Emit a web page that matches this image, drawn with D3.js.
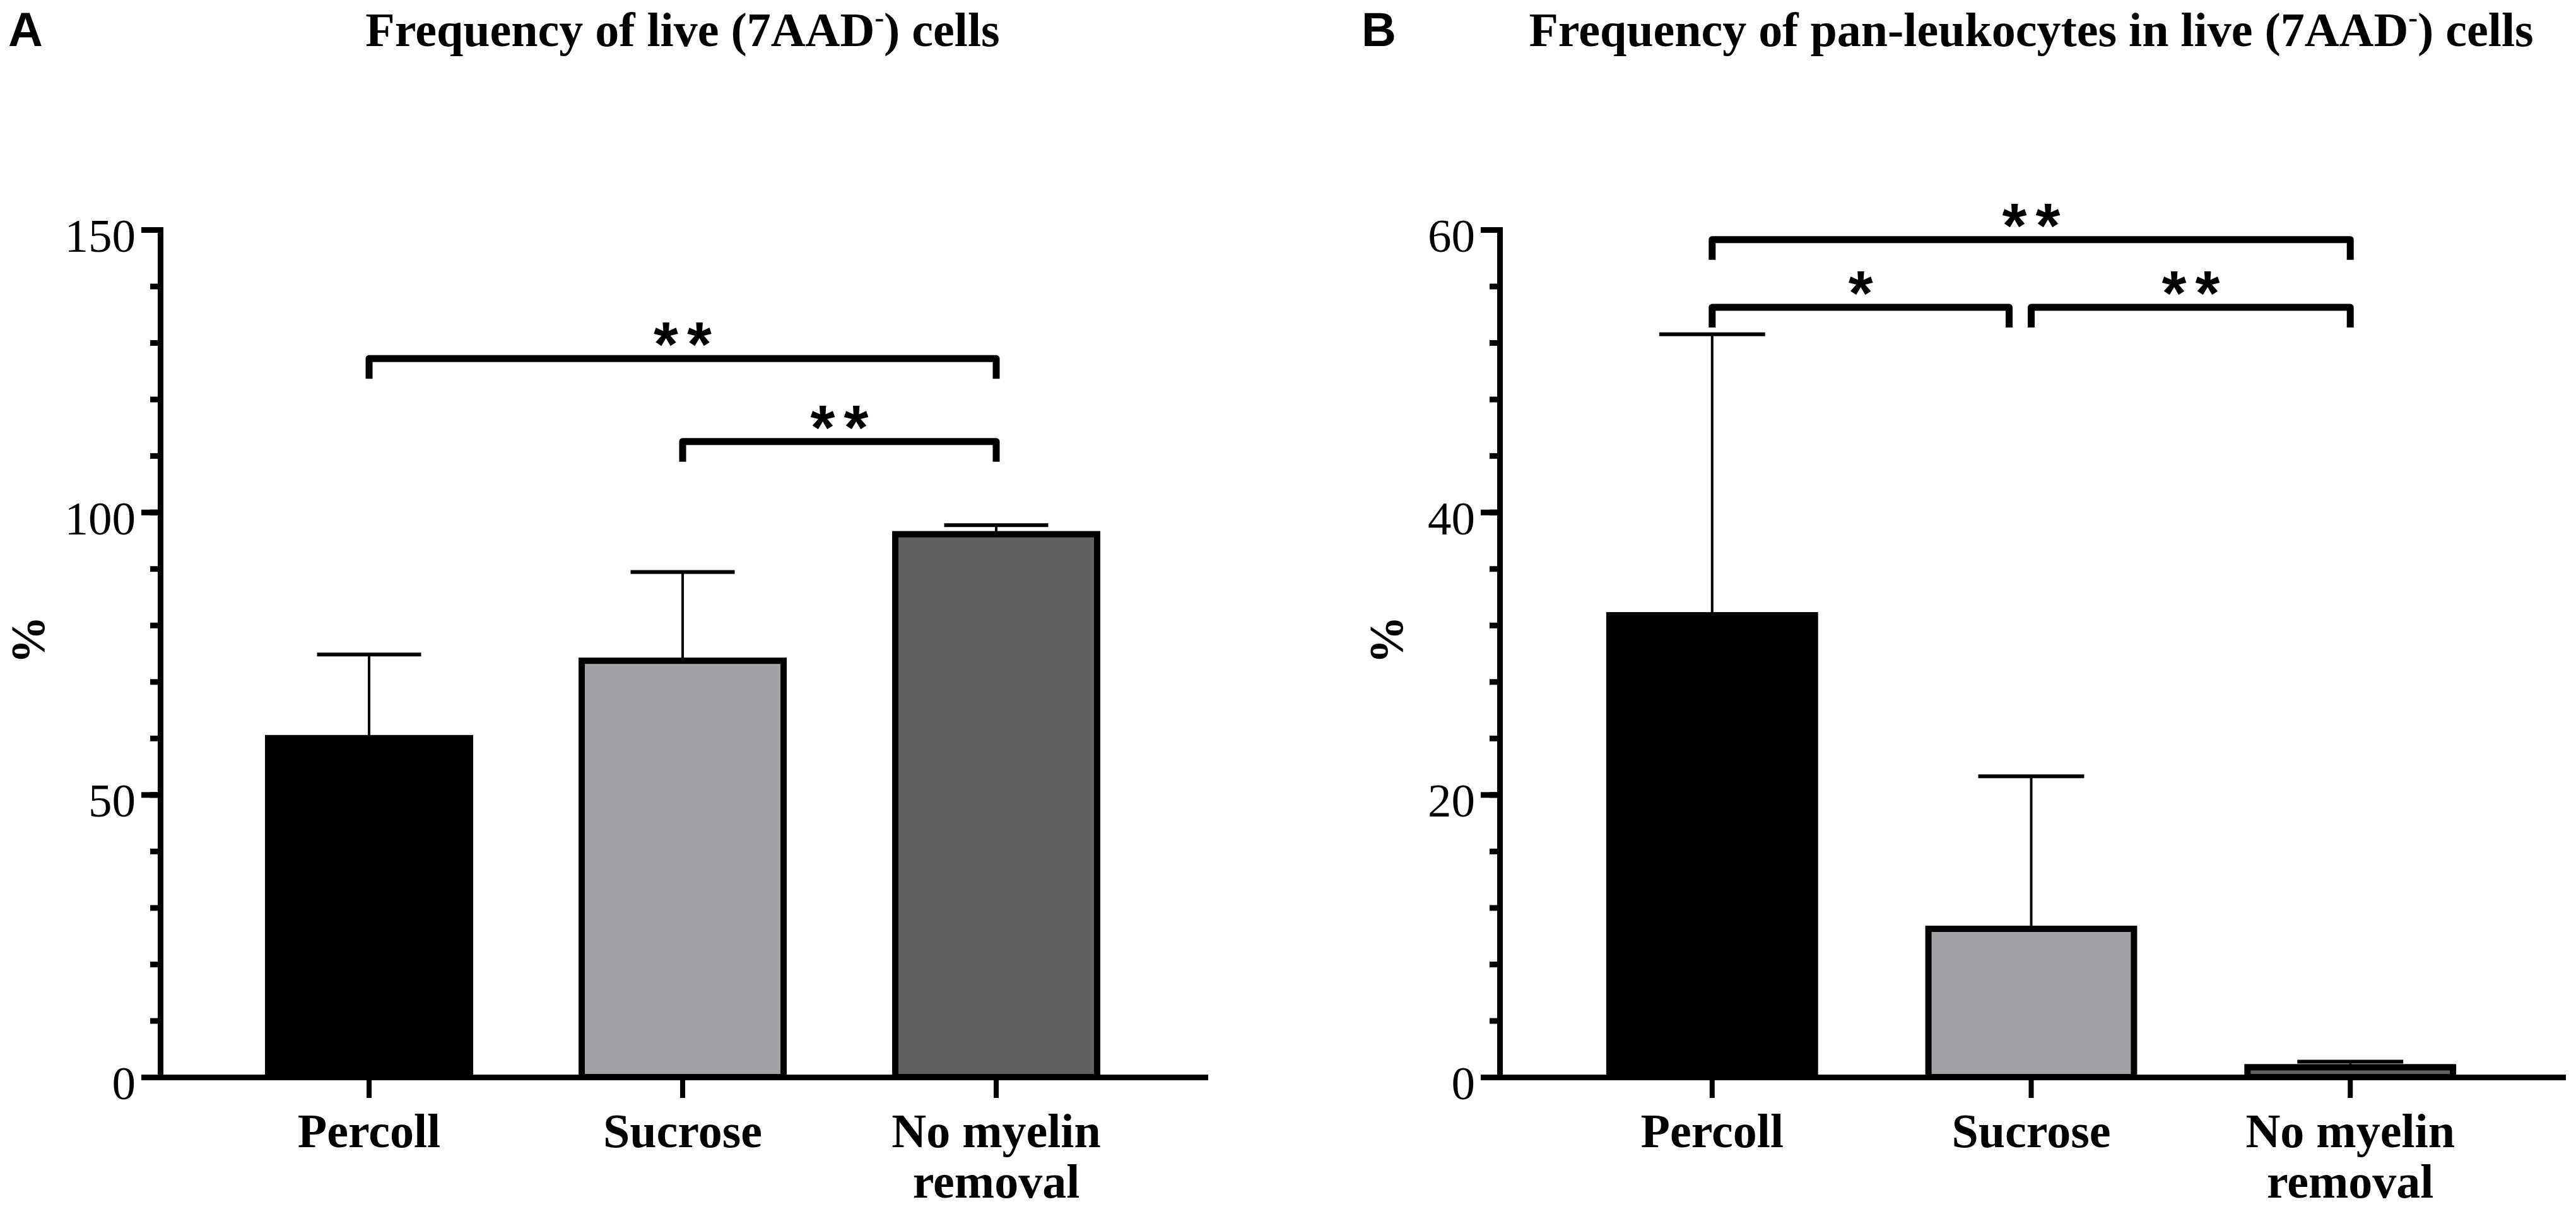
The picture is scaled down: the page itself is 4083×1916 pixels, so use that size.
<!DOCTYPE html>
<html>

<head>
    <meta charset="utf-8">
    <script src="https://d3js.org/d3.v7.min.js"></script>
    <style>
        body { margin: 0; background: #fff; }
        svg { display: block; }
    </style>
</head>

<body>
    <script>
        // data
        var categories = ["Percoll", "Sucrose", "No myelin removal"];
        var categoryLines = [["Percoll"], ["Sucrose"], ["No myelin", "removal"]];
        var barColors = ["#000000", "#a3a2a7", "#616161"];

        // A: live (7AAD-) cells, mean and upper SD
        var liveMean = [60.0, 73.7, 96.1];
        var liveSD = [14.8, 15.7, 1.6];
        var liveTicks = [0, 50, 100, 150];
        var liveMinorTicks = [0, 10, 20, 30, 40, 50, 60, 70, 80, 90, 100, 110, 120, 130, 140, 150];
        var liveComparisons = [
            { a: 0, b: 2, level: 127.2, mark: "**" },
            { a: 1, b: 2, level: 112.5, mark: "**" }
        ];

        // B: pan-leukocytes in live cells
        var leukoMean = [32.7, 10.5, 0.7];
        var leukoSD = [19.9, 10.8, 0.4];
        var leukoTicks = [0, 20, 40, 60];
        var leukoMinorTicks = [0, 4, 8, 12, 16, 20, 24, 28, 32, 36, 40, 44, 48, 52, 56, 60];
        var leukoComparisons = [
            { a: 0, b: 2, level: 59.3, mark: "**" },
            { a: 0, b: 1, level: 54.5, mark: "*" },
            { a: 1, b: 2, level: 54.5, mark: "**" }
        ];

        var W = 4083, H = 1916;
        var serif = "'Liberation Serif', 'Times New Roman', serif";
        var sans = "'Liberation Sans', Arial, sans-serif";

        var svg = d3.select("body").append("svg")
            .attr("width", W)
            .attr("height", H);

        svg.append("rect").attr("width", W).attr("height", H).attr("fill", "#fff");

        function drawPanel(p) {
            var g = svg.append("g");

            var x = d3.scaleBand()
                .domain(categories)
                .range([p.left, p.right])
                .paddingInner(0.336)
                .paddingOuter(0.334);

            var y = d3.scaleLinear()
                .domain([0, p.ticks[p.ticks.length - 1]])
                .range([p.bottom, p.top]);

            // panel letter and title
            g.append("text")
                .attr("x", p.letterX).attr("y", 73)
                .style("font-family", sans).style("font-weight", "bold").style("font-size", "76px")
                .text(p.letter);

            var title = g.append("text")
                .attr("x", (p.left + p.right) / 2).attr("y", 73)
                .attr("text-anchor", "middle")
                .style("font-family", serif).style("font-weight", "bold").style("font-size", "76px");
            title.append("tspan").text(p.title[0]);
            title.append("tspan").attr("dy", -30).style("font-size", "44px").text("-");
            title.append("tspan").attr("dy", 30).text(p.title[1]);

            // error bars (upper only)
            var cap = x.bandwidth() / 2;
            g.selectAll(".err").data(p.mean).join("line")
                .attr("x1", function (d, i) { return x(categories[i]) + x.bandwidth() / 2; })
                .attr("x2", function (d, i) { return x(categories[i]) + x.bandwidth() / 2; })
                .attr("y1", function (d) { return y(d); })
                .attr("y2", function (d, i) { return y(d + p.sd[i]); })
                .attr("stroke", "#000").attr("stroke-width", 4);
            g.selectAll(".cap").data(p.mean).join("line")
                .attr("x1", function (d, i) { return x(categories[i]) + x.bandwidth() / 2 - cap / 2; })
                .attr("x2", function (d, i) { return x(categories[i]) + x.bandwidth() / 2 + cap / 2; })
                .attr("y1", function (d, i) { return y(d + p.sd[i]); })
                .attr("y2", function (d, i) { return y(d + p.sd[i]); })
                .attr("stroke", "#000").attr("stroke-width", 6);

            // bars
            g.selectAll(".bar").data(p.mean).join("rect")
                .attr("x", function (d, i) { return x(categories[i]) + 5; })
                .attr("width", x.bandwidth() - 10)
                .attr("y", function (d) { return y(d); })
                .attr("height", function (d) { return y(0) - y(d); })
                .attr("fill", function (d, i) { return barColors[i]; })
                .attr("stroke", "#000").attr("stroke-width", 10);

            // y axis: minor ticks, then major ticks with labels
            var minor = g.append("g").attr("transform", "translate(" + p.left + ",0)")
                .call(d3.axisLeft(y).tickValues(p.minor).tickSize(16).tickSizeOuter(0).tickFormat(""));
            var major = g.append("g").attr("transform", "translate(" + p.left + ",0)")
                .call(d3.axisLeft(y).tickValues(p.ticks).tickSize(30).tickSizeOuter(0).tickPadding(9));
            [minor, major].forEach(function (ax) {
                ax.select(".domain").attr("stroke-width", 9).attr("stroke-linecap", "square");
                ax.selectAll(".tick line").attr("stroke-width", 9);
            });
            major.selectAll(".tick text")
                .attr("dy", "0.46em")
                .style("font-family", serif).style("font-size", "75px").attr("fill", "#000");

            g.append("text")
                .attr("transform", "translate(" + p.yLabelX + "," + 1014 + ") rotate(-90)")
                .attr("text-anchor", "middle")
                .style("font-family", serif).style("font-weight", "bold").style("font-size", "76px")
                .text("%");

            // x axis
            var xa = g.append("g").attr("transform", "translate(0," + p.bottom + ")")
                .call(d3.axisBottom(x).tickSize(33).tickSizeOuter(0).tickFormat(""));
            xa.select(".domain").attr("stroke-width", 9).attr("stroke-linecap", "square");
            xa.selectAll(".tick line").attr("stroke-width", 8);

            var lab = g.selectAll(".xlab").data(categoryLines).join("text")
                .attr("text-anchor", "middle")
                .style("font-family", serif).style("font-weight", "bold").style("font-size", "76px");
            lab.each(function (lines, i) {
                var t = d3.select(this);
                lines.forEach(function (s, k) {
                    t.append("tspan")
                        .attr("x", x(categories[i]) + x.bandwidth() / 2)
                        .attr("y", 1818 + k * 80)
                        .text(s);
                });
            });

            // significance brackets
            var leg = 32, gap = 35;
            p.comparisons.forEach(function (c) {
                var x1 = x(categories[c.a]) + x.bandwidth() / 2;
                var x2 = x(categories[c.b]) + x.bandwidth() / 2;
                var neighbour = p.comparisons.some(function (o) {
                    return o !== c && o.level === c.level && o.a === c.b;
                });
                if (neighbour) x2 -= gap;
                var ly = y(c.level);
                g.append("path")
                    .attr("d", "M" + x1 + "," + (ly + leg) + "V" + ly + "H" + x2 + "V" + (ly + leg))
                    .attr("fill", "none").attr("stroke", "#000")
                    .attr("stroke-width", 11).attr("stroke-linejoin", "round");
                var mid = (x1 + x2) / 2;
                var n = c.mark.length;
                c.mark.split("").forEach(function (ch, k) {
                    g.append("text")
                        .attr("x", mid + (k - (n - 1) / 2) * 53)
                        .attr("y", ly + 12)
                        .attr("text-anchor", "middle")
                        .style("font-family", sans).style("font-weight", "bold").style("font-size", "100px")
                        .text(ch);
                });
            });
        }

        drawPanel({
            letter: "A", letterX: 13,
            title: ["Frequency of live (7AAD", ") cells"],
            left: 254, right: 1910, top: 364, bottom: 1707,
            yLabelX: 70,
            mean: liveMean, sd: liveSD,
            ticks: liveTicks, minor: liveMinorTicks,
            comparisons: liveComparisons
        });

        drawPanel({
            letter: "B", letterX: 2158,
            title: ["Frequency of pan-leukocytes in live (7AAD", ") cells"],
            left: 2377, right: 4062, top: 364, bottom: 1707,
            yLabelX: 2223,
            mean: leukoMean, sd: leukoSD,
            ticks: leukoTicks, minor: leukoMinorTicks,
            comparisons: leukoComparisons
        });
    </script>
</body>

</html>
